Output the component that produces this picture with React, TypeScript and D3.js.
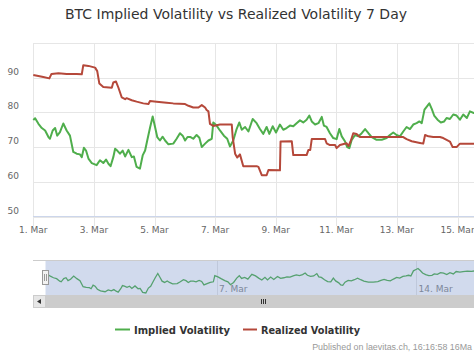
import React from "react";
import * as d3 from "d3";

// ---- data (day offsets from 1 Mar 2021 00:00 UTC) ----
const ivDay = [0.0,0.06,0.17,0.28,0.39,0.5,0.55,0.64,0.72,0.79,0.88,0.99,1.1,1.21,1.32,1.43,1.54,1.6,1.67,1.74,1.82,1.93,2.09,2.2,2.31,2.4,2.48,2.55,2.64,2.7,2.77,2.86,2.95,3.03,3.14,3.25,3.32,3.41,3.52,3.61,3.69,3.76,3.85,3.94,4.02,4.09,4.18,4.27,4.35,4.46,4.62,4.73,4.84,4.93,5.01,5.09,5.19,5.28,5.39,5.48,5.56,5.67,5.78,5.89,5.94,6.05,6.16,6.29,6.4,6.49,6.6,6.71,6.8,6.88,6.99,7.1,7.24,7.37,7.48,7.59,7.7,7.79,7.9,8.01,8.14,8.25,8.36,8.47,8.58,8.69,8.8,8.91,9.02,9.11,9.19,9.3,9.41,9.52,9.59,9.68,9.79,9.9,10.01,10.1,10.18,10.29,10.36,10.43,10.51,10.62,10.73,10.84,10.95,11.06,11.17,11.33,11.5,11.66,11.77,11.88,11.99,12.1,12.21,12.32,12.43,12.54,12.65,12.74,12.82,12.91,13.0,13.07,13.15,13.23,13.34,13.45,13.56,13.64,13.75,13.86,13.97,14.08,14.19,14.31,14.41,14.54,14.65,14.8,14.95,15.1];
const ivVal = [77.8,78.3,76.7,75.5,74.8,72.9,72.4,74.8,75.5,73.3,74.3,76.8,74.8,73.3,68.6,68.1,67.9,67.1,69.8,69.0,66.7,65.4,64.8,66.2,65.4,66.4,65.2,64.5,67.1,69.5,69.0,68.1,69.0,67.3,69.2,67.1,67.3,64.3,63.8,67.6,69.0,71.9,75.5,78.8,75.7,72.9,71.9,73.0,71.9,70.8,71.0,72.4,74.0,73.3,71.9,72.9,72.9,72.4,73.5,72.7,70.0,71.0,71.9,72.4,77.1,76.2,74.8,73.3,72.4,70.2,71.9,75.2,77.1,75.0,75.8,74.5,78.1,76.9,75.2,73.8,75.8,73.8,76.0,74.2,76.5,75.0,75.5,76.2,76.0,76.9,77.7,77.1,77.9,79.1,77.4,76.5,76.9,78.7,76.2,75.8,74.0,72.6,72.3,75.2,73.1,71.6,70.0,69.7,72.1,73.5,73.1,74.0,75.2,74.0,72.9,72.1,72.1,72.6,73.5,74.2,73.5,73.1,74.5,75.8,75.2,76.5,76.9,77.4,76.9,80.8,81.8,82.6,81.0,79.1,77.9,77.1,77.4,78.4,78.1,79.4,79.1,77.9,79.4,78.4,80.3,79.8,80.2,80.6,80.4,80.9];

const rvDay = [0.0,0.33,0.53,0.6,0.83,1.1,1.43,1.6,1.65,1.82,2.04,2.11,2.18,2.31,2.59,2.64,2.73,2.81,2.92,3.03,3.08,3.25,3.41,3.63,3.8,3.85,4.07,4.4,4.62,5.01,5.12,5.28,5.45,5.56,5.67,5.72,5.78,5.83,5.94,6.16,6.55,6.58,6.66,6.73,6.82,6.93,7.37,7.43,7.54,7.7,7.76,8.14,8.16,8.53,8.58,9.02,9.08,9.14,9.19,9.63,9.68,9.79,9.96,10.01,10.12,10.34,10.4,10.47,10.56,10.67,10.78,12.21,12.32,12.49,12.76,12.87,12.93,13.04,13.2,13.42,13.53,13.75,13.84,13.97,14.08,14.65];
const rvVal = [90.8,90.2,89.8,91.1,91.3,91.1,91.1,91.0,93.6,93.4,92.9,91.9,88.3,87.3,87.1,88.6,88.9,87.1,84.3,83.8,84.1,83.5,83.1,82.6,82.4,83.3,83.1,82.8,82.6,82.4,81.9,81.4,81.4,82.1,81.4,80.7,80.3,76.7,76.1,76.5,76.5,72.9,68.1,67.0,67.9,64.5,64.5,64.3,61.9,61.9,63.4,63.3,71.6,71.7,67.7,67.7,69.2,69.2,72.3,72.3,71.1,70.6,70.6,69.7,70.6,71.1,70.3,71.6,74.0,73.8,72.9,72.9,72.3,71.7,71.2,71.0,73.5,73.1,72.9,72.9,72.6,71.6,70.0,70.0,71.0,71.0];

const yTickValues = [50, 60, 70, 80, 90, 100];
const navTickDays = [6, 13];
const seriesNames = ["Implied Volatility", "Realized Volatility"];
const seriesColors = ["#4fae4c", "#b5483a"];
const titleText = "BTC Implied Volatility vs Realized Volatility 7 Day";
const creditText = "Published on laevitas.ch, 16:16:58 16Ma";

const START = Date.UTC(2021, 2, 1);
const DAY = 86400000;
const toDate = (d: number) => new Date(START + d * DAY);
const END_DAY = 15.68;

export default function App() {
  const W = 474, H = 355;
  const x = d3.scaleUtc().domain([toDate(0), toDate(END_DAY)]).range([33.3, 33.3 + END_DAY * 30.3]);
  const y = d3.scaleLinear().domain([50, 100]).range([216.5, 43]);
  const navStart = -12.5 / 28.5;
  const navX = d3.scaleUtc().domain([toDate(navStart), toDate(END_DAY)]).range([33, 33 + (END_DAY - navStart) * 28.5]);
  const ext = d3.extent(ivVal) as [number, number];
  const navY = d3.scaleLinear().domain(ext).range([293, 268.5]);

  const iv = ivDay.map((d, i) => ({ t: toDate(d), v: ivVal[i] }));
  const rv = rvDay.map((d, i) => ({ t: toDate(d), v: rvVal[i] }));
  const line = d3.line<{ t: Date; v: number }>().x(p => x(p.t)).y(p => y(p.v));
  const navLine = d3.line<{ t: Date; v: number }>().x(p => navX(p.t)).y(p => navY(p.v));

  const xTicks = d3.utcDay.every(2)!.range(toDate(0), toDate(END_DAY));
  const fmt = d3.utcFormat("%-d. %b");
  const font = "'DejaVu Sans', Verdana, sans-serif";

  const selX = navX(toDate(0));
  const thumbEnd = 480.5;

  return (
    <svg width={W} height={H} style={{ position: "absolute", left: 0, top: 0, background: "#fff" }} fontFamily={font}>
      <rect x={0} y={0} width={W} height={H} fill="#fff" />
      <text x={236} y={18.5} textAnchor="middle" fontSize={13.5} fill="#333" textLength={342} lengthAdjust="spacingAndGlyphs">{titleText}</text>

      {/* grid */}
      {yTickValues.map(v => (
        <line key={"gy" + v} x1={33} x2={W} y1={Math.round(y(v)) + 0.5} y2={Math.round(y(v)) + 0.5} stroke="#e6e6e6" />
      ))}
      {xTicks.map(t => (
        <line key={"gx" + +t} x1={Math.round(x(t)) + 0.5} x2={Math.round(x(t)) + 0.5} y1={43} y2={226} stroke="#e6e6e6" />
      ))}
      <line x1={33} x2={W} y1={216.5} y2={216.5} stroke="#ccd6eb" />
      {yTickValues.filter(v => v < 100).map(v => (
        <text key={"ly" + v} x={19} y={y(v) - 3} textAnchor="end" fontSize={9} fill="#666">{v}</text>
      ))}
      {xTicks.map(t => (
        <text key={"lx" + +t} x={x(t)} y={233} textAnchor="middle" fontSize={9} fill="#666">{fmt(t)}</text>
      ))}

      {/* series */}
      <path d={line(iv)!} fill="none" stroke={seriesColors[0]} strokeWidth={2} strokeLinejoin="round" />
      <path d={line(rv)!} fill="none" stroke={seriesColors[1]} strokeWidth={2} strokeLinejoin="round" />

      {/* navigator */}
      {navTickDays.map(d => (
        <g key={"nt" + d}>
          <line x1={Math.round(navX(toDate(d))) + 0.5} x2={Math.round(navX(toDate(d))) + 0.5} y1={260} y2={295} stroke="#e6e6e6" />
          <text x={navX(toDate(d)) + 2.5} y={291.5} fontSize={9} fill="#888">{fmt(toDate(d))}</text>
        </g>
      ))}
      <path d={navLine(iv)!} fill="none" stroke="#4fae4c" strokeWidth={1.3} />
      <rect x={selX} y={260} width={W - selX} height={35} fill="rgba(102,133,194,0.3)" />
      <line x1={33} x2={W} y1={260.5} y2={260.5} stroke="#cccccc" />
      <rect x={42.5} y={270.5} width={6} height={14} fill="#f2f2f2" stroke="#999" />
      <line x1={44.5} x2={44.5} y1={274} y2={281} stroke="#999" />
      <line x1={46.5} x2={46.5} y1={274} y2={281} stroke="#999" />

      {/* scrollbar */}
      <rect x={33} y={295} width={W - 33} height={13} fill="#f2f2f2" />
      <rect x={45.5} y={295} width={W - 45.5} height={13} fill="#cccccc" />
      <rect x={33.5} y={295.5} width={12} height={12} fill="#e6e6e6" stroke="#cccccc" />
      <path d="M41,299 L37,301.5 L41,304 Z" fill="#333" />
      {[-2, 0, 2].map(o => (
        <line key={"g" + o} x1={(45.5 + thumbEnd) / 2 + o + 0.5} x2={(45.5 + thumbEnd) / 2 + o + 0.5} y1={299} y2={304} stroke="#333" />
      ))}

      {/* legend */}
      <line x1={115} x2={130} y1={329.5} y2={329.5} stroke={seriesColors[0]} strokeWidth={2} />
      <text x={134} y={333.5} fontSize={11} fontWeight="bold" fill="#333" textLength={96} lengthAdjust="spacingAndGlyphs">{seriesNames[0]}</text>
      <line x1={243} x2={257} y1={329.5} y2={329.5} stroke={seriesColors[1]} strokeWidth={2} />
      <text x={261} y={333.5} fontSize={11} fontWeight="bold" fill="#333" textLength={99} lengthAdjust="spacingAndGlyphs">{seriesNames[1]}</text>

      <text x={472} y={350} textAnchor="end" fontFamily="'Liberation Sans', Arial, sans-serif" fontSize={8.9} fill="#999">{creditText}</text>
    </svg>
  );
}
